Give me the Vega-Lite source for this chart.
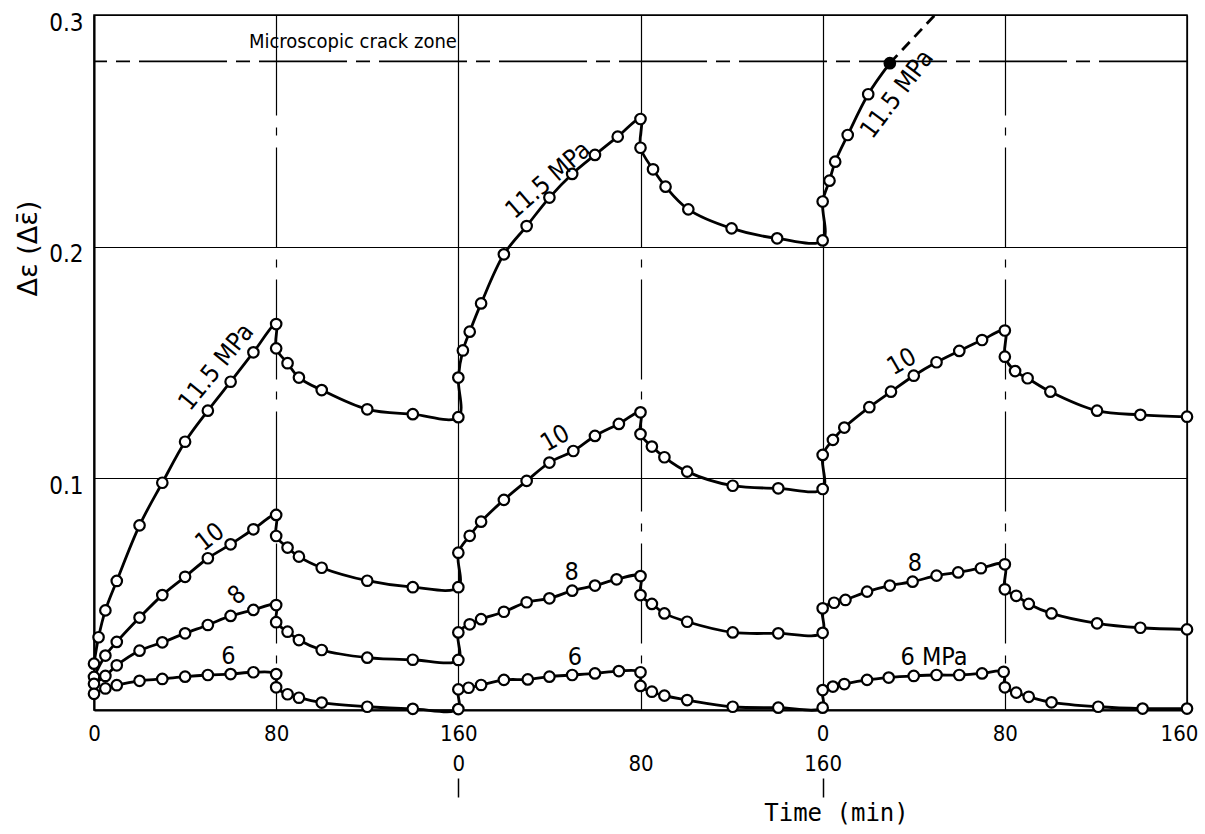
{
  "$schema": "https://vega.github.io/schema/vega-lite/v6.json",
  "width": 1093,
  "height": 695,
  "autosize": {"type": "none"},
  "padding": {"left": 94, "top": 15, "right": 18, "bottom": 124},
  "background": "white",
  "config": {
    "view": {"stroke": "black", "strokeWidth": 1.5},
    "font": "DejaVu Sans Condensed, DejaVu Sans",
    "axis": {"labelColor": "black", "titleColor": "black", "labelFont": "DejaVu Sans Condensed, DejaVu Sans", "titleFont": "DejaVu Sans Mono"}
  },
  "datasets": {
    "series": [
      {"stress": "11.5", "t": 0, "v": 0.0200}, {"stress": "11.5", "t": 2, "v": 0.0314}, {"stress": "11.5", "t": 5, "v": 0.0430}, {"stress": "11.5", "t": 10, "v": 0.0557}, {"stress": "11.5", "t": 20, "v": 0.0797}, {"stress": "11.5", "t": 30, "v": 0.0981}, {"stress": "11.5", "t": 40, "v": 0.1158}, {"stress": "11.5", "t": 50, "v": 0.1292}, {"stress": "11.5", "t": 60, "v": 0.1417}, {"stress": "11.5", "t": 70, "v": 0.1544}, {"stress": "11.5", "t": 80, "v": 0.1666},
      {"stress": "11.5", "t": 80, "v": 0.1561}, {"stress": "11.5", "t": 85, "v": 0.1497}, {"stress": "11.5", "t": 90, "v": 0.1435}, {"stress": "11.5", "t": 100, "v": 0.1381}, {"stress": "11.5", "t": 120, "v": 0.1298}, {"stress": "11.5", "t": 140, "v": 0.1277}, {"stress": "11.5", "t": 160, "v": 0.1264},
      {"stress": "11.5", "t": 160, "v": 0.1435}, {"stress": "11.5", "t": 162, "v": 0.1552}, {"stress": "11.5", "t": 165, "v": 0.1633}, {"stress": "11.5", "t": 170, "v": 0.1755}, {"stress": "11.5", "t": 180, "v": 0.1967}, {"stress": "11.5", "t": 190, "v": 0.2089}, {"stress": "11.5", "t": 200, "v": 0.2212}, {"stress": "11.5", "t": 210, "v": 0.2314}, {"stress": "11.5", "t": 220, "v": 0.2396}, {"stress": "11.5", "t": 230, "v": 0.2475}, {"stress": "11.5", "t": 240, "v": 0.2551},
      {"stress": "11.5", "t": 240, "v": 0.2427}, {"stress": "11.5", "t": 245.5, "v": 0.2334}, {"stress": "11.5", "t": 251, "v": 0.2259}, {"stress": "11.5", "t": 261, "v": 0.2161}, {"stress": "11.5", "t": 280, "v": 0.2079}, {"stress": "11.5", "t": 300, "v": 0.2036}, {"stress": "11.5", "t": 320, "v": 0.2027},
      {"stress": "11.5", "t": 320, "v": 0.2195}, {"stress": "11.5", "t": 323, "v": 0.2285}, {"stress": "11.5", "t": 325.5, "v": 0.2367}, {"stress": "11.5", "t": 331, "v": 0.2482}, {"stress": "11.5", "t": 340, "v": 0.2658}, {"stress": "11.5", "t": 349.5, "v": 0.2792, "state": "crack"},

      {"stress": "10", "t": 0, "v": 0.0143}, {"stress": "10", "t": 5, "v": 0.0235}, {"stress": "10", "t": 10, "v": 0.0294}, {"stress": "10", "t": 20, "v": 0.0399}, {"stress": "10", "t": 30, "v": 0.0496}, {"stress": "10", "t": 40, "v": 0.0575}, {"stress": "10", "t": 50, "v": 0.0655}, {"stress": "10", "t": 60, "v": 0.0715}, {"stress": "10", "t": 70, "v": 0.0780}, {"stress": "10", "t": 80, "v": 0.0842},
      {"stress": "10", "t": 80, "v": 0.0751}, {"stress": "10", "t": 85, "v": 0.0701}, {"stress": "10", "t": 90, "v": 0.0662}, {"stress": "10", "t": 100, "v": 0.0614}, {"stress": "10", "t": 120, "v": 0.0558}, {"stress": "10", "t": 140, "v": 0.0530}, {"stress": "10", "t": 160, "v": 0.0530},
      {"stress": "10", "t": 160, "v": 0.0679}, {"stress": "10", "t": 165, "v": 0.0752}, {"stress": "10", "t": 170, "v": 0.0813}, {"stress": "10", "t": 180, "v": 0.0907}, {"stress": "10", "t": 190, "v": 0.0989}, {"stress": "10", "t": 200, "v": 0.1068}, {"stress": "10", "t": 210.5, "v": 0.1118}, {"stress": "10", "t": 220, "v": 0.1183}, {"stress": "10", "t": 230.5, "v": 0.1235}, {"stress": "10", "t": 240, "v": 0.1285},
      {"stress": "10", "t": 240, "v": 0.1191}, {"stress": "10", "t": 245, "v": 0.1137}, {"stress": "10", "t": 250.5, "v": 0.1091}, {"stress": "10", "t": 260.5, "v": 0.1029}, {"stress": "10", "t": 280.5, "v": 0.0968}, {"stress": "10", "t": 300.5, "v": 0.0957}, {"stress": "10", "t": 320, "v": 0.0954},
      {"stress": "10", "t": 320, "v": 0.1101}, {"stress": "10", "t": 324.5, "v": 0.1166}, {"stress": "10", "t": 329.5, "v": 0.1219}, {"stress": "10", "t": 340.5, "v": 0.1307}, {"stress": "10", "t": 350, "v": 0.1374}, {"stress": "10", "t": 360, "v": 0.1443}, {"stress": "10", "t": 370, "v": 0.1501}, {"stress": "10", "t": 380, "v": 0.1550}, {"stress": "10", "t": 390, "v": 0.1597}, {"stress": "10", "t": 400, "v": 0.1638},
      {"stress": "10", "t": 400, "v": 0.1525}, {"stress": "10", "t": 404.5, "v": 0.1463}, {"stress": "10", "t": 410, "v": 0.1432}, {"stress": "10", "t": 420, "v": 0.1374}, {"stress": "10", "t": 440.5, "v": 0.1292}, {"stress": "10", "t": 459.5, "v": 0.1274}, {"stress": "10", "t": 480, "v": 0.1266},

      {"stress": "8", "t": 0, "v": 0.0113}, {"stress": "8", "t": 5, "v": 0.0147}, {"stress": "8", "t": 10, "v": 0.0193}, {"stress": "8", "t": 20, "v": 0.0256}, {"stress": "8", "t": 30, "v": 0.0292}, {"stress": "8", "t": 40, "v": 0.0331}, {"stress": "8", "t": 50, "v": 0.0367}, {"stress": "8", "t": 60, "v": 0.0406}, {"stress": "8", "t": 70, "v": 0.0432}, {"stress": "8", "t": 80, "v": 0.0453},
      {"stress": "8", "t": 80, "v": 0.0379}, {"stress": "8", "t": 85, "v": 0.0338}, {"stress": "8", "t": 90, "v": 0.0302}, {"stress": "8", "t": 100, "v": 0.0259}, {"stress": "8", "t": 120, "v": 0.0226}, {"stress": "8", "t": 140, "v": 0.0217}, {"stress": "8", "t": 160, "v": 0.0216},
      {"stress": "8", "t": 160, "v": 0.0335}, {"stress": "8", "t": 165, "v": 0.0370}, {"stress": "8", "t": 170, "v": 0.0392}, {"stress": "8", "t": 180, "v": 0.0424}, {"stress": "8", "t": 190, "v": 0.0465}, {"stress": "8", "t": 200, "v": 0.0482}, {"stress": "8", "t": 210, "v": 0.0515}, {"stress": "8", "t": 220, "v": 0.0537}, {"stress": "8", "t": 229.5, "v": 0.0564}, {"stress": "8", "t": 240, "v": 0.0578},
      {"stress": "8", "t": 240, "v": 0.0496}, {"stress": "8", "t": 245, "v": 0.0458}, {"stress": "8", "t": 250.5, "v": 0.0417}, {"stress": "8", "t": 260.5, "v": 0.0381}, {"stress": "8", "t": 280.5, "v": 0.0335}, {"stress": "8", "t": 300.5, "v": 0.0331}, {"stress": "8", "t": 320, "v": 0.0333},
      {"stress": "8", "t": 320, "v": 0.0439}, {"stress": "8", "t": 325, "v": 0.0463}, {"stress": "8", "t": 330, "v": 0.0475}, {"stress": "8", "t": 339.5, "v": 0.0511}, {"stress": "8", "t": 349.5, "v": 0.0537}, {"stress": "8", "t": 359.5, "v": 0.0554}, {"stress": "8", "t": 370, "v": 0.0580}, {"stress": "8", "t": 379.5, "v": 0.0594}, {"stress": "8", "t": 389.5, "v": 0.0612}, {"stress": "8", "t": 400, "v": 0.0629},
      {"stress": "8", "t": 400, "v": 0.0521}, {"stress": "8", "t": 405, "v": 0.0493}, {"stress": "8", "t": 410.5, "v": 0.0458}, {"stress": "8", "t": 420.5, "v": 0.0417}, {"stress": "8", "t": 440.5, "v": 0.0374}, {"stress": "8", "t": 459.5, "v": 0.0355}, {"stress": "8", "t": 480, "v": 0.0348},

      {"stress": "6", "t": 0, "v": 0.0070}, {"stress": "6", "t": 5, "v": 0.0093}, {"stress": "6", "t": 10, "v": 0.0107}, {"stress": "6", "t": 20, "v": 0.0126}, {"stress": "6", "t": 30, "v": 0.0134}, {"stress": "6", "t": 40, "v": 0.0144}, {"stress": "6", "t": 50, "v": 0.0151}, {"stress": "6", "t": 60, "v": 0.0155}, {"stress": "6", "t": 70, "v": 0.0163}, {"stress": "6", "t": 80, "v": 0.0155},
      {"stress": "6", "t": 80, "v": 0.0098}, {"stress": "6", "t": 85, "v": 0.0068}, {"stress": "6", "t": 90, "v": 0.0053}, {"stress": "6", "t": 100, "v": 0.0032}, {"stress": "6", "t": 120, "v": 0.0014}, {"stress": "6", "t": 140, "v": 0.0005}, {"stress": "6", "t": 160, "v": 0.0004},
      {"stress": "6", "t": 160, "v": 0.0089}, {"stress": "6", "t": 164.5, "v": 0.0096}, {"stress": "6", "t": 170, "v": 0.0108}, {"stress": "6", "t": 180, "v": 0.0130}, {"stress": "6", "t": 190.5, "v": 0.0132}, {"stress": "6", "t": 200, "v": 0.0144}, {"stress": "6", "t": 210, "v": 0.0151}, {"stress": "6", "t": 220, "v": 0.0158}, {"stress": "6", "t": 230.5, "v": 0.0168}, {"stress": "6", "t": 240, "v": 0.0163},
      {"stress": "6", "t": 240, "v": 0.0104}, {"stress": "6", "t": 245, "v": 0.0079}, {"stress": "6", "t": 250.5, "v": 0.0062}, {"stress": "6", "t": 260.5, "v": 0.0043}, {"stress": "6", "t": 280.5, "v": 0.0014}, {"stress": "6", "t": 300.5, "v": 0.0010}, {"stress": "6", "t": 320, "v": 0.0010},
      {"stress": "6", "t": 320, "v": 0.0086}, {"stress": "6", "t": 324.5, "v": 0.0101}, {"stress": "6", "t": 329.5, "v": 0.0112}, {"stress": "6", "t": 339.5, "v": 0.0130}, {"stress": "6", "t": 349, "v": 0.0140}, {"stress": "6", "t": 360, "v": 0.0147}, {"stress": "6", "t": 370, "v": 0.0151}, {"stress": "6", "t": 380, "v": 0.0151}, {"stress": "6", "t": 390, "v": 0.0158}, {"stress": "6", "t": 399.5, "v": 0.0165},
      {"stress": "6", "t": 400, "v": 0.0098}, {"stress": "6", "t": 405, "v": 0.0075}, {"stress": "6", "t": 410.5, "v": 0.0057}, {"stress": "6", "t": 420.5, "v": 0.0033}, {"stress": "6", "t": 441, "v": 0.0014}, {"stress": "6", "t": 460.5, "v": 0.0006}, {"stress": "6", "t": 480, "v": 0.0006}
    ],
    "extension": [
      {"t": 349.5, "v": 0.2792},
      {"t": 369.3, "v": 0.3}
    ],
    "threshold": [
      {"v": 0.28}
    ],
    "labels": [
      {"label": "11.5 MPa", "t": 53.6, "v": 0.1481},
      {"label": "10", "t": 50.9, "v": 0.0747},
      {"label": "8", "t": 62.7, "v": 0.0496},
      {"label": "6", "t": 59.0, "v": 0.0235},
      {"label": "11.5 MPa", "t": 199.4, "v": 0.2288},
      {"label": "10", "t": 202.5, "v": 0.1173},
      {"label": "8", "t": 209.8, "v": 0.0595},
      {"label": "6", "t": 211.2, "v": 0.0230},
      {"label": "11.5 MPa", "t": 352.6, "v": 0.2659},
      {"label": "10", "t": 354.7, "v": 0.1504},
      {"label": "8", "t": 360.5, "v": 0.0633},
      {"label": "6  MPa", "t": 368.9, "v": 0.0228},
      {"label": "Microscopic crack zone", "t": 113.7, "v": 0.2884}
    ]
  },
  "layer": [
    {
      "data": {"name": "threshold"},
      "mark": {"type": "rule", "color": "black", "strokeWidth": 1.6, "strokeDash": [88, 9, 14, 9]},
      "encoding": {
        "y": {"field": "v", "type": "quantitative", "scale": {"domain": [0, 0.3], "nice": false, "zero": true}, "axis": null}
      }
    },
    {
      "data": {"name": "series"},
      "mark": {"type": "line", "color": "black", "strokeWidth": 2.8, "interpolate": "catmull-rom"},
      "encoding": {
        "x": {
          "field": "t", "type": "quantitative",
          "scale": {"domain": [0, 480], "nice": false, "zero": false},
          "axis": {
            "orient": "bottom",
            "values": [0, 80, 160, 240, 320, 400, 480],
            "labelExpr": "datum.value === 240 ? '' : (datum.value > 160 ? format(datum.value - 320, 'd') : format(datum.value, 'd'))",
            "labelFlush": false, "labelOverlap": false,
            "labelFontSize": 22, "labelPadding": 13,
            "labelOffset": {"condition": {"test": "datum.value === 480", "value": -8}, "value": 0},
            "grid": true, "gridColor": "black", "gridWidth": 1.2, "gridOpacity": 1,
            "gridDash": {"condition": {"test": "datum.value === 80 || datum.value === 240 || datum.value === 400", "value": [100, 12, 8, 12]}, "value": []},
            "ticks": false, "domainColor": "black", "domainWidth": 2,
            "title": "Time (min)", "titleFontSize": 24, "titleFontWeight": "normal",
            "titleX": 742, "titleY": 103, "titleAlign": "center", "titleBaseline": "middle"
          }
        },
        "y": {
          "field": "v", "type": "quantitative",
          "scale": {"domain": [0, 0.3], "nice": false, "zero": true},
          "axis": {
            "values": [0.1, 0.2, 0.3],
            "labelExpr": "format(datum.value, '.1f')",
            "labelFontSize": 24, "labelPadding": 11, "labelOffset": 8,
            "grid": true, "gridColor": "black", "gridWidth": 1.2, "gridOpacity": 1,
            "ticks": false, "domainColor": "black", "domainWidth": 2,
            "title": "Δε (Δε̄)", "titleFontSize": 27, "titleFontWeight": "normal",
            "titleFont": "DejaVu Sans",
            "titleX": -66, "titleY": 233, "titleAngle": 270, "titleAlign": "center", "titleBaseline": "middle"
          }
        },
        "detail": {"field": "stress"},
        "order": {"value": null}
      }
    },
    {
      "data": {"name": "extension"},
      "mark": {"type": "line", "color": "black", "strokeWidth": 2.8, "strokeDash": [11, 7]},
      "encoding": {
        "x": {"field": "t", "type": "quantitative", "axis": null},
        "y": {"field": "v", "type": "quantitative", "axis": null}
      }
    },
    {
      "data": {"name": "series"},
      "mark": {"type": "point", "shape": "circle", "filled": true, "size": 110, "stroke": "black", "strokeWidth": 2.2, "opacity": 1},
      "encoding": {
        "x": {
          "field": "t", "type": "quantitative",
          "axis": {
            "orient": "bottom",
            "values": [160, 240, 320],
            "labelExpr": "format(datum.value - 160, 'd')",
            "labelFlush": false, "labelOverlap": false,
            "labelFontSize": 22, "labelPadding": 13, "offset": 30,
            "domain": false, "ticks": false, "grid": false, "title": null
          }
        },
        "y": {"field": "v", "type": "quantitative", "axis": null},
        "fill": {"condition": {"test": "datum.state === 'crack'", "value": "black"}, "value": "white"}
      }
    },
    {
      "data": {"name": "labels"},
      "mark": {"type": "text", "color": "black", "align": "center", "baseline": "middle", "font": "DejaVu Sans Condensed, DejaVu Sans"},
      "encoding": {
        "x": {
          "field": "t", "type": "quantitative",
          "axis": {
            "orient": "bottom",
            "values": [160, 320], "labels": false,
            "ticks": true, "tickSize": 19, "tickColor": "black", "tickWidth": 1.5,
            "domain": false, "grid": false, "offset": 68, "title": null
          }
        },
        "y": {"field": "v", "type": "quantitative", "axis": null},
        "text": {"field": "label"},
        "angle": {
          "condition": [
            {"test": "datum.label === '11.5 MPa' && datum.t < 100", "value": 309},
            {"test": "datum.label === '11.5 MPa' && datum.t < 300", "value": 319},
            {"test": "datum.label === '11.5 MPa'", "value": 307},
            {"test": "datum.label === '10' && datum.t < 100", "value": 322},
            {"test": "datum.label === '10'", "value": 330},
            {"test": "datum.label === '8' && datum.t < 100", "value": 320}
          ],
          "value": 0
        },
        "size": {"condition": {"test": "datum.label === 'Microscopic crack zone'", "value": 20}, "value": 25}
      }
    }
  ],
  "resolve": {"axis": {"x": "independent", "y": "independent"}}
}
